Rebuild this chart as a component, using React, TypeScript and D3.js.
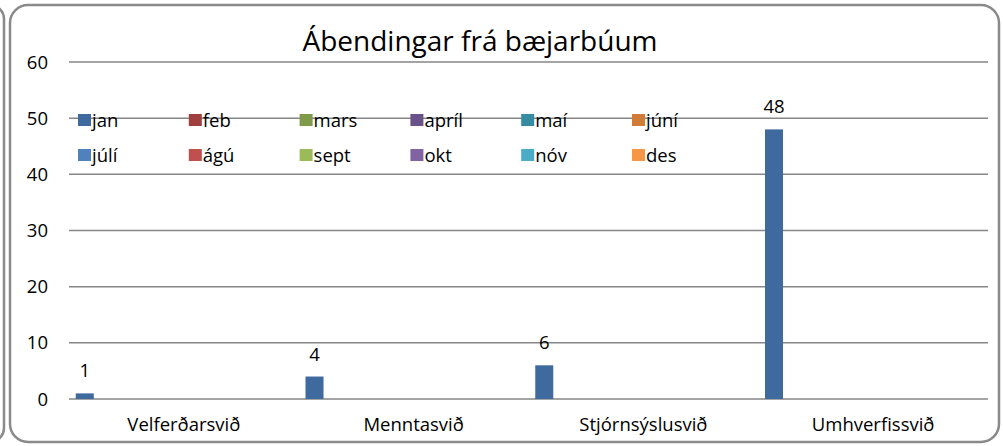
import React from "react";
import * as d3 from "d3";

const categories = ["Velferðarsvið", "Menntasvið", "Stjórnsýslusvið", "Umhverfissvið"];
const months = ["jan", "feb", "mars", "apríl", "maí", "júní", "júlí", "ágú", "sept", "okt", "nóv", "des"];
const janValues = [1, 4, 6, 48];
const otherValues: (number | null)[] = [null, null, null, null];
const seriesValues: (number | null)[][] = [janValues, ...months.slice(1).map(() => otherValues)];
const monthColors = [
  "#3F6A9E", "#A0403E", "#7F9A48", "#69518A", "#358BA2", "#D07B36",
  "#4F81BD", "#C0504D", "#9BBB59", "#8064A2", "#4BACC6", "#F79646",
];
const yTicks = [0, 10, 20, 30, 40, 50, 60];
const title = "Ábendingar frá bæjarbúum";

const FONT = "'Open Sans', sans-serif";
const FS = 18.5;

export default function App() {
  const W = 1003, H = 446;
  const plotLeft = 69, plotRight = 988, plotTop = 62, plotBottom = 399;
  const x0 = d3.scaleBand<string>().domain(categories).range([plotLeft, plotRight]).padding(0);
  const x1 = d3.scaleBand<string>().domain(months).range([0, x0.bandwidth()]).paddingInner(0).paddingOuter(0.375);
  const y = d3.scaleLinear().domain([0, 60]).range([plotBottom, plotTop]);

  const legendX = d3.scaleLinear().domain([0, 5]).range([78, 632]);
  const legendRowY = [120, 155];

  return (
    <svg width={W} height={H} style={{ position: "absolute", left: 0, top: 0, background: "#fff" }}>
      <rect x={0} y={0} width={W} height={H} fill="#fff" />
      {/* neighbouring frame edge */}
      <rect x={-200} y={5} width={204} height={437} rx={14} fill="none" stroke="#8a8a8a" strokeWidth={2.5} />
      {/* main frame */}
      <rect x={10} y={5} width={989} height={437} rx={18} fill="#fff" stroke="#8a8a8a" strokeWidth={2.5} />

      {/* gridlines */}
      {yTicks.map((t) => (
        <g key={t}>
          <line x1={plotLeft} x2={plotRight} y1={y(t)} y2={y(t)} stroke="#868686" strokeWidth={1.5} />
          <text x={48} y={y(t)} dy="0.36em" textAnchor="end" fontFamily={FONT} fontSize={FS} fill="#000">{t}</text>
        </g>
      ))}

      {/* bars */}
      {months.map((m, si) =>
        categories.map((c, ci) => {
          const v = seriesValues[si][ci];
          if (v == null) return null;
          const bx = (x0(c) as number) + (x1(m) as number);
          return (
            <g key={m + c}>
              <rect x={bx} y={y(v)} width={x1.bandwidth()} height={plotBottom - y(v)} fill={monthColors[si]} />
              <text x={bx + x1.bandwidth() / 2} y={y(v) - 16} textAnchor="middle" fontFamily={FONT} fontSize={FS} fill="#000">{v}</text>
            </g>
          );
        })
      )}

      {/* category labels */}
      {categories.map((c) => (
        <text key={c} x={(x0(c) as number) + x0.bandwidth() / 2} y={424} dy="0.36em" textAnchor="middle" fontFamily={FONT} fontSize={FS} fill="#000">{c}</text>
      ))}

      {/* legend */}
      {months.map((m, i) => {
        const col = i % 6, row = Math.floor(i / 6);
        const lx = legendX(col), ly = legendRowY[row];
        return (
          <g key={m}>
            <rect x={lx} y={ly - 6} width={13} height={12} fill={monthColors[i]} />
            <text x={lx + 14} y={ly} dy="0.36em" fontFamily={FONT} fontSize={FS} fill="#000">{m}</text>
          </g>
        );
      })}

      {/* title */}
      <text x={480} y={41} dy="0.36em" textAnchor="middle" fontFamily={FONT} fontSize={28} fill="#000">{title}</text>
    </svg>
  );
}
